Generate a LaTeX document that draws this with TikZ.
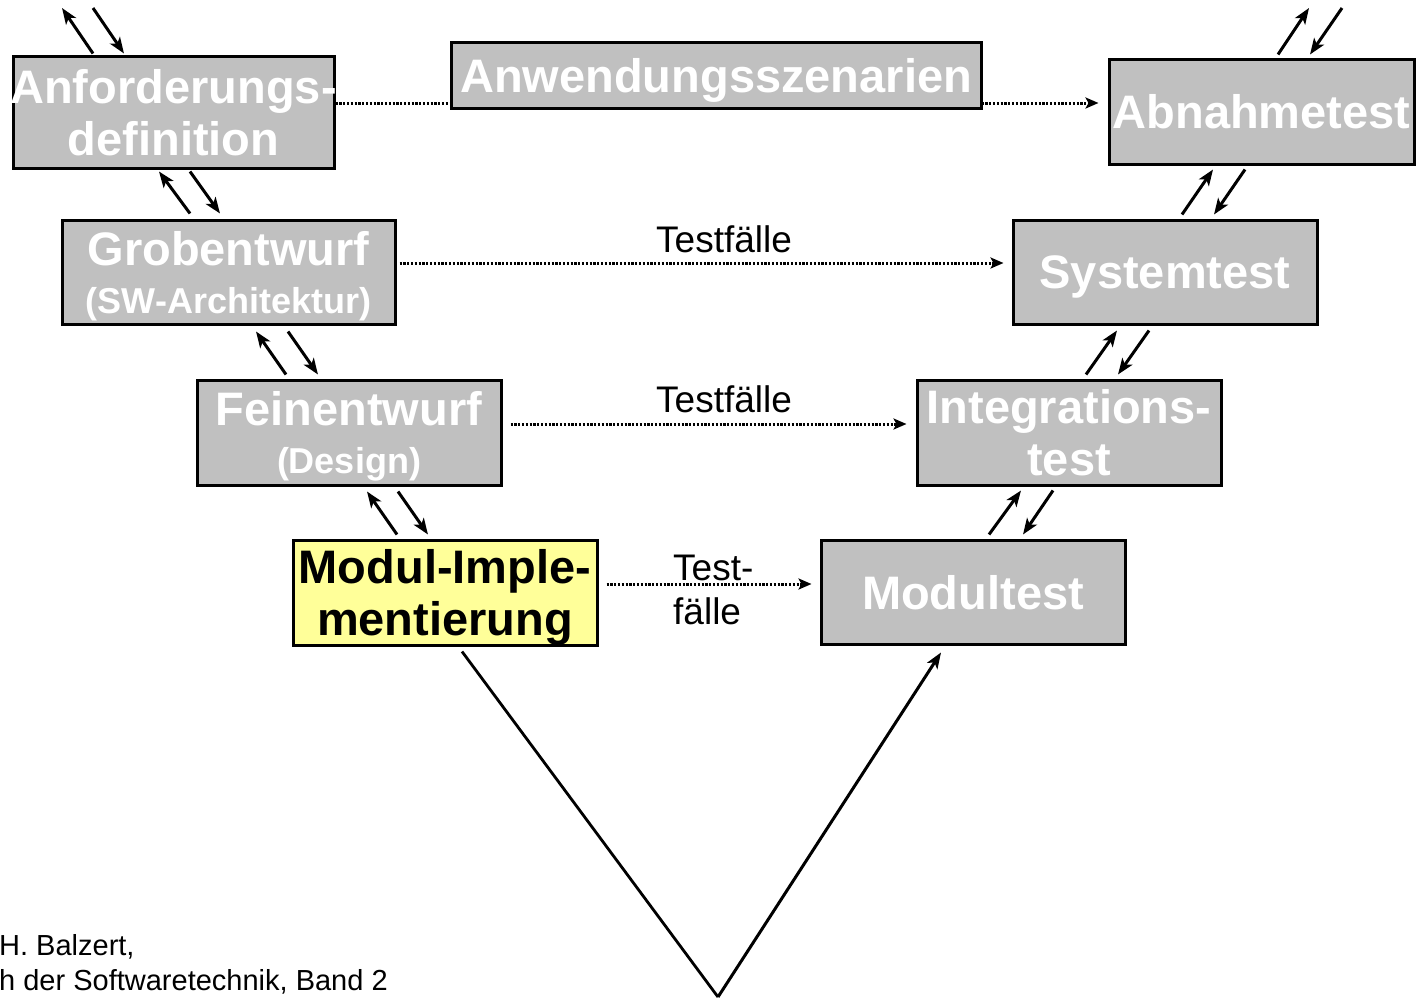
\documentclass[tikz,border=0pt]{standalone}
\usepackage{fontspec}
\setmainfont{Liberation Sans}
\usetikzlibrary{arrows.meta,backgrounds}
\definecolor{boxgray}{HTML}{C0C0C0}
\definecolor{boxyellow}{HTML}{FFFF99}
\tikzset{
  stage/.style={draw=black, line width=3pt, fill=boxgray, text=white, inner sep=0pt, align=center,
    text depth=0pt, font=\bfseries\fontsize{47}{52}\selectfont},
  arr/.style={line width=3pt, -{Stealth[length=16pt,width=12pt,inset=4pt]}},
  dots/.style={line width=3pt, dash pattern=on 2.2pt off 1.6pt},
  dotarr/.style={dots, -{Stealth[length=13pt,width=11pt,inset=3pt]}},
  lbl/.style={font=\fontsize{37}{44}\selectfont, inner sep=0pt},
  src/.style={font=\fontsize{29}{34}\selectfont, inner sep=0pt, anchor=base west},
}
\newcommand{\fitline}[2]{\makebox[#1][c]{#2}}
\begin{document}
\begin{tikzpicture}[x=1pt,y=-1pt]
\useasboundingbox (0,0) rectangle (1418,999);
% stages
\node[stage, minimum width=321pt, minimum height=112pt] (anf) at (173.5,112) {\fitline{300pt}{Anforderungs-}\\\fitline{300pt}{definition}};
\node[stage, minimum width=530pt, minimum height=66pt] (anw) at (716,75) {\fitline{500pt}{Anwendungsszenarien}};
\node[stage, minimum width=305pt, minimum height=105pt] (abn) at (1261.5,111.5) {\fitline{290pt}{Abnahmetest}};
\node[stage, minimum width=333pt, minimum height=104pt] (grob) at (228.5,272) {Grobentwurf\\[-4pt]{\bfseries\fontsize{36}{40}\selectfont (SW-Architektur)}};
\node[stage, minimum width=304pt, minimum height=104pt] (sys) at (1165,272) {Systemtest};
\node[stage, minimum width=304pt, minimum height=105pt] (fein) at (349,432.5) {Feinentwurf\\[-4pt]{\bfseries\fontsize{36}{40}\selectfont (Design)}};
\node[stage, minimum width=304pt, minimum height=105pt] (integ) at (1069,432.5) {\fitline{290pt}{Integrations-}\\\fitline{290pt}{test}};
\node[stage, fill=boxyellow, text=black, minimum width=304pt, minimum height=105pt] (modul) at (445,592.5) {\fitline{290pt}{Modul-Imple-}\\\fitline{290pt}{mentierung}};
\node[stage, minimum width=304pt, minimum height=104pt] (mtest) at (973,592) {Modultest};
% free ends
\coordinate (t1a) at (62,8);
\coordinate (t1b) at (93,8);
\coordinate (t2a) at (1309,8);
\coordinate (t2b) at (1342,8);
\coordinate (vtip) at (718,997);
% dotted test-case connectors
\begin{scope}[on background layer]
\draw[dotarr] ([yshift=9pt]anf.east) -- ([xshift=-9pt,yshift=8.5pt]abn.west);
\end{scope}
\draw[dotarr] ([xshift=3pt,yshift=9pt]grob.east) -- ([xshift=-8pt,yshift=9pt]sys.west);
\draw[dotarr] ([xshift=8pt,yshift=8.5pt]fein.east) -- ([xshift=-9pt,yshift=8.5pt]integ.west);
\draw[dotarr] ([xshift=8pt,yshift=8.5pt]modul.east) -- ([xshift=-8pt,yshift=8pt]mtest.west);
\node[lbl] (l1) at (724,239) {Testfälle};
\node[lbl] (l2) at (724,399) {Testfälle};
\node[lbl, anchor=west, align=left] (l3) at (673,590) {Test-\\fälle};
% left side arrow pairs
\draw[arr] ([xshift=-80.5pt,yshift=1pt]anf.north) -- (t1a);
\draw[arr] (t1b) -- ([xshift=-49.5pt,yshift=1pt]anf.north);
\draw[arr] ([xshift=-38.5pt,yshift=5pt]grob.north) -- ([xshift=-14.5pt,yshift=-2pt]anf.south);
\draw[arr] ([xshift=16.5pt,yshift=-2pt]anf.south) -- ([xshift=-8.5pt,yshift=5pt]grob.north);
\draw[arr] ([xshift=-63pt,yshift=4pt]fein.north) -- ([xshift=27.5pt,yshift=-6pt]grob.south);
\draw[arr] ([xshift=59.5pt,yshift=-6pt]grob.south) -- ([xshift=-31pt,yshift=4pt]fein.north);
\draw[arr] ([xshift=-48pt,yshift=4pt]modul.north) -- ([xshift=18pt,yshift=-5pt]fein.south);
\draw[arr] ([xshift=49pt,yshift=-5pt]fein.south) -- ([xshift=-17pt,yshift=4pt]modul.north);
% right side arrow pairs
\draw[arr] ([xshift=16.5pt,yshift=3pt]abn.north) -- (t2a);
\draw[arr] (t2b) -- ([xshift=48.5pt,yshift=3pt]abn.north);
\draw[arr] ([xshift=17pt,yshift=4pt]sys.north) -- ([xshift=-48.5pt,yshift=-4pt]abn.south);
\draw[arr] ([xshift=-16.5pt,yshift=-4pt]abn.south) -- ([xshift=49pt,yshift=4pt]sys.north);
\draw[arr] ([xshift=17pt,yshift=4pt]integ.north) -- ([xshift=-48pt,yshift=-5pt]sys.south);
\draw[arr] ([xshift=-16pt,yshift=-5pt]sys.south) -- ([xshift=49pt,yshift=4pt]integ.north);
\draw[arr] ([xshift=16pt,yshift=4pt]mtest.north) -- ([xshift=-48pt,yshift=-4pt]integ.south);
\draw[arr] ([xshift=-16pt,yshift=-4pt]integ.south) -- ([xshift=50pt,yshift=4pt]mtest.north);
% the V
\draw[line width=2.8pt] ([xshift=17pt,yshift=-5pt]modul.south) -- (vtip);
\draw[arr] (vtip) -- ([xshift=-32pt,yshift=-7pt]mtest.south);
% source
\node[src] (s1) at (-1,955) {H. Balzert,};
\node[src] (s2) at (-1,990) {h der Softwaretechnik, Band 2};
\end{tikzpicture}
\end{document}
